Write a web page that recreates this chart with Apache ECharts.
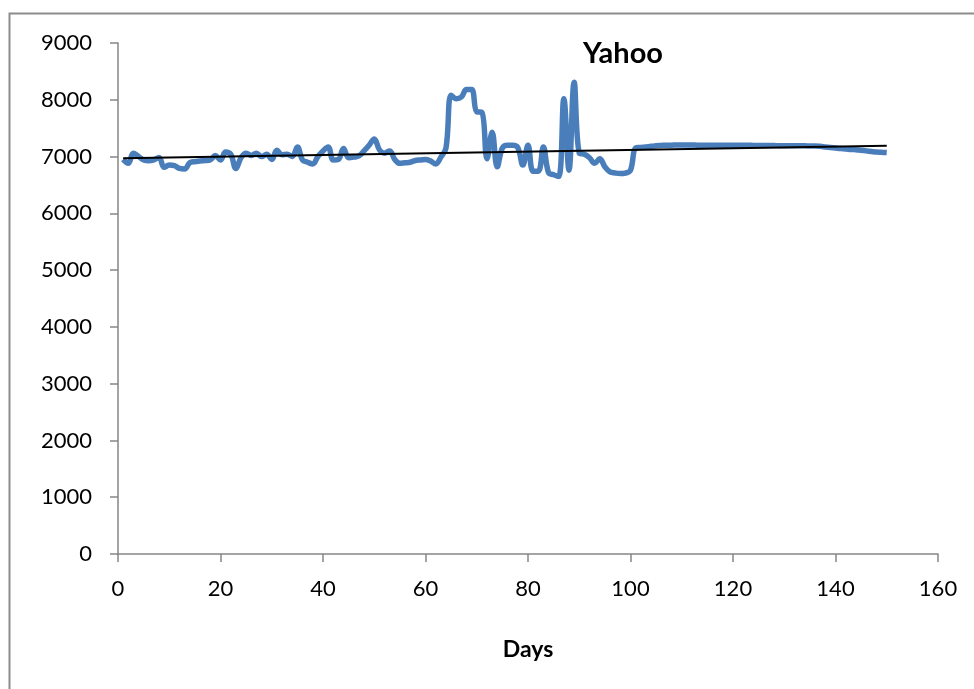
<!DOCTYPE html>
<html>
<head>
<meta charset="utf-8">
<script src="https://cdn.jsdelivr.net/npm/echarts@6/dist/echarts.min.js"></script>
<style>html,body{margin:0;padding:0;background:#fff}#c{width:974px;height:689px}</style>
</head>
<body>
<div id="c"></div>
<script>
const title = "Yahoo";
const xName = "Days";
const values = [
6950,6880,7060,7000,6940,6925,6940,6985,6810,6850,
6840,6790,6780,6890,6910,6920,6930,6940,7020,6940,
7080,7040,6790,6980,7060,7020,7060,7000,7040,6950,
7110,7030,7040,7000,7170,6940,6900,6870,7000,7100,
7170,6940,6950,7140,6980,6990,7010,7100,7200,7310,
7120,7060,7100,6950,6880,6890,6900,6930,6940,6950,
6920,6870,6990,7150,8080,8020,8050,8180,8180,7790,
7780,6960,7430,6820,7150,7200,7200,7160,6850,7200,
6740,6740,7170,6720,6680,6650,8020,6760,8310,7060,
7040,6980,6880,6960,6820,6730,6710,6700,6710,6760,
7150,7160,7170,7180,7190,7195,7200,7200,7205,7205,
7205,7205,7200,7200,7200,7200,7200,7200,7200,7200,
7200,7200,7200,7195,7195,7195,7195,7195,7190,7190,
7190,7190,7190,7190,7185,7185,7180,7170,7160,7150,
7140,7135,7125,7120,7110,7100,7090,7080,7075,7070
];
const trendEnds = [[1, 6970], [150, 7190]];
const xTicks = {min: 0, max: 160, interval: 20};
const yTicks = {min: 0, max: 9000, interval: 1000};

const seriesData = values.map((v, i) => [i + 1, v]);
const font = "Lato, 'Open Sans', sans-serif";
const chart = echarts.init(document.getElementById('c'));
chart.setOption({
  animation: false,
  backgroundColor: '#fff',
  graphic: [{
    type: 'rect', shape: {x: 9.5, y: 13.5, width: 1000, height: 1000},
    style: {fill: 'none', stroke: '#8c8c8c', lineWidth: 2}, z: -1
  }],
  title: {
    text: title, left: 618, top: 34, textAlign: 'center',
    textStyle: {fontFamily: font, fontWeight: 'bold', fontSize: 29, color: '#000'}
  },
  grid: {left: 118, right: 36, top: 43, bottom: 135},
  xAxis: {
    type: 'value', min: xTicks.min, max: xTicks.max, interval: xTicks.interval,
    name: xName, nameLocation: 'middle', nameGap: 84,
    nameTextStyle: {fontFamily: font, fontWeight: 'bold', fontSize: 23, color: '#000'},
    axisLine: {lineStyle: {color: '#868686', width: 1.5}},
    axisTick: {show: true, length: 8, lineStyle: {color: '#868686', width: 1.5}},
    axisLabel: {fontFamily: font, fontSize: 22, color: '#000', margin: 24},
    splitLine: {show: false}
  },
  yAxis: {
    type: 'value', min: yTicks.min, max: yTicks.max, interval: yTicks.interval,
    axisLine: {show: true, lineStyle: {color: '#868686', width: 1.5}},
    axisTick: {show: true, length: 8, lineStyle: {color: '#868686', width: 1.5}},
    axisLabel: {fontFamily: font, fontSize: 22, color: '#000', margin: 26, formatter: v => String(v)},
    splitLine: {show: false}
  },
  series: [{
    type: 'line', data: seriesData, smooth: 0.4, showSymbol: false,
    lineStyle: {color: '#4a7ebb', width: 5.5}, z: 2
  }, {
    type: 'line', data: trendEnds, showSymbol: false,
    lineStyle: {color: '#000', width: 1.8}, z: 3
  }]
});
</script>
</body>
</html>
